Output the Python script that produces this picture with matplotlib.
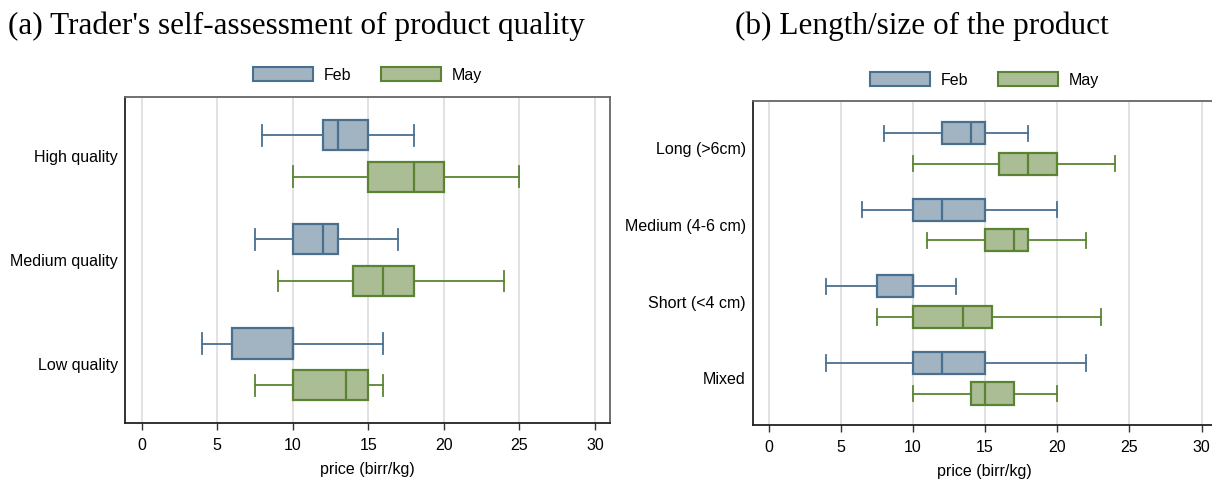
import matplotlib
matplotlib.use("Agg")
import matplotlib.pyplot as plt
from matplotlib.patches import Patch

plt.rcParams['font.family'] = ['Liberation Sans', 'DejaVu Sans']

# Panel (a): quality categories
quality_cats = ["High quality", "Medium quality", "Low quality"]
# (whisker low, q1, median, q3, whisker high)
quality_feb = [(8, 12, 13, 15, 18), (7.5, 10, 12, 13, 17), (4, 6, 10, 10, 16)]
quality_may = [(10, 15, 18, 20, 25), (9, 14, 16, 18, 24), (7.5, 10, 13.5, 15, 16)]

# Panel (b): size categories
size_cats = ["Long (>6cm)", "Medium (4-6 cm)", "Short (<4 cm)", "Mixed"]
size_feb = [(8, 12, 14, 15, 18), (6.5, 10, 12, 15, 20), (4, 7.5, 10, 10, 13), (4, 10, 12, 15, 22)]
size_may = [(10, 16, 18, 20, 24), (11, 15, 17, 18, 22), (7.5, 10, 13.5, 15.5, 23), (10, 14, 15, 17, 20)]

xticks = [0, 5, 10, 15, 20, 25, 30]

feb_fill, feb_edge = "#a2b3c2", "#4a7090"
may_fill, may_edge = "#abbd95", "#5a8434"
fs = 11.5


def stats(rows):
    return [dict(whislo=a, q1=b, med=c, q3=d, whishi=e, fliers=[]) for a, b, c, d, e in rows]


def draw(ax, cats, feb, may, ylim, leg_y):
    n = len(cats)
    for rows, off, fill, edge in [(feb, -0.2, feb_fill, feb_edge), (may, 0.2, may_fill, may_edge)]:
        ax.bxp(stats(rows), positions=[i + off for i in range(n)], vert=False, widths=0.29,
               capwidths=0.2, patch_artist=True, showfliers=False,
               boxprops=dict(facecolor=fill, edgecolor=edge, linewidth=1.6),
               medianprops=dict(color=edge, linewidth=1.6),
               whiskerprops=dict(color=edge, linewidth=1.3),
               capprops=dict(color=edge, linewidth=1.3))
    ax.set_ylim(*ylim)
    ax.set_yticks(range(n))
    ax.set_yticklabels(cats, fontsize=fs)
    ax.tick_params(axis='y', length=0, pad=5)
    ax.set_xlim(-1.1, 31)
    ax.set_xticks(xticks)
    ax.set_xticklabels([str(t) for t in xticks], fontsize=fs)
    ax.tick_params(axis='x', length=5, width=1, pad=6, color="#333333")
    ax.grid(axis='x', color="#dddddd", linewidth=1.2)
    ax.set_axisbelow(True)
    ax.set_xlabel("price (birr/kg)", fontsize=fs, labelpad=6)
    for side in ['left', 'bottom']:
        ax.spines[side].set_color("#222222")
        ax.spines[side].set_linewidth(1.3)
    for side in ['top', 'right']:
        ax.spines[side].set_color("#666666")
        ax.spines[side].set_linewidth(1.3)
    handles = [Patch(facecolor=feb_fill, edgecolor=feb_edge, linewidth=1.5, label="Feb"),
               Patch(facecolor=may_fill, edgecolor=may_edge, linewidth=1.5, label="May")]
    ax.legend(handles=handles, loc='center', bbox_to_anchor=(0.5, leg_y), ncol=2, frameon=False,
              fontsize=fs, handlelength=3.75, handleheight=1.0, handletextpad=0.65, columnspacing=1.9)


fig = plt.figure(figsize=(12.12, 4.79), dpi=100)
ax1 = fig.add_axes([0.1031, 0.1169, 0.4002, 0.6806])
ax2 = fig.add_axes([0.621, 0.1127, 0.3823, 0.6764])

draw(ax1, quality_cats, quality_feb, quality_may, (2.5625, -0.566), 1.0675)
draw(ax2, size_cats, size_feb, size_may, (3.611, -0.62), 1.065)

title_font = ['Liberation Serif', 'DejaVu Serif']
fig.text(8 / 1212, 1 - 26 / 479, "(a) Trader's self-assessment of product quality",
         family=title_font, fontsize=22.5, va='center', ha='left')
fig.text(735 / 1212, 1 - 26 / 479, "(b) Length/size of the product",
         family=title_font, fontsize=22.5, va='center', ha='left')

fig.savefig("out.png", dpi=100)
